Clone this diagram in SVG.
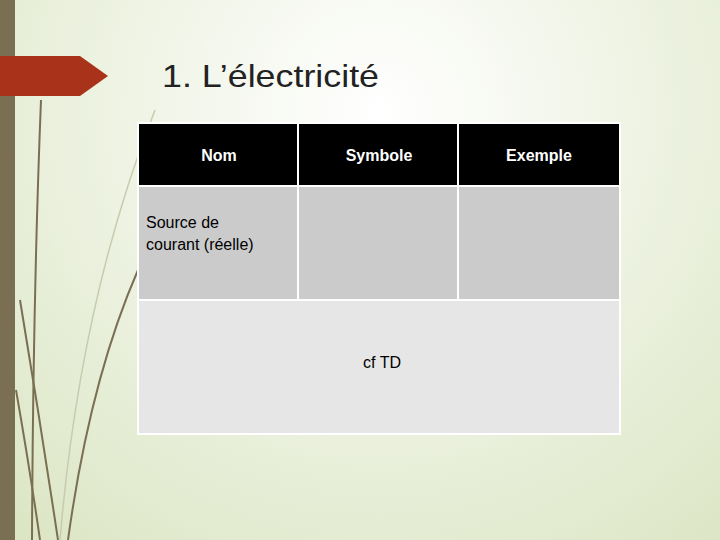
<svg xmlns="http://www.w3.org/2000/svg" width="720" height="540" viewBox="0 0 720 540">
<defs>
<radialGradient id="bg" cx="380" cy="110" r="600" gradientUnits="userSpaceOnUse">
<stop offset="0" stop-color="#ffffff"/><stop offset="1" stop-color="#d9e4c0"/>
</radialGradient>
<style>
.h{fill:#000;stroke:#fff;stroke-width:2}
.c{fill:#cbcbcb;stroke:#fff;stroke-width:2}
.t{font-family:"Liberation Sans",Arial,sans-serif;font-size:16px}
.g{fill:none;stroke:#7a6f52;stroke-width:2}
.gl{fill:none;stroke:#c8cbb0;stroke-width:1.5}
</style>
</defs>
<rect width="720" height="540" fill="url(#bg)"/>
<g id="decor">
<rect x="0" y="0" width="15" height="540" fill="#7a6f52"/>
<path class="g" d="M41 100 Q33 300 32 540"/>
<path class="g" d="M16 390 Q30 470 40 540"/>
<path class="g" d="M20 300 Q40 420 58 540"/>
<path class="g" d="M138 270 Q90 380 68 540"/>
<path class="gl" d="M155 110 Q80 300 60 540"/>
<path d="M0 56 H80 L108 76 L80 96 H0 Z" fill="#a8321a"/>
</g>
<text x="162" y="87" font-family="Liberation Sans,Arial,sans-serif" font-size="32" fill="#222" textLength="217" lengthAdjust="spacingAndGlyphs">1. L’électricité</text>
<g id="table">
<rect class="h" x="138" y="123" width="160" height="63"/>
<rect class="h" x="298" y="123" width="160" height="63"/>
<rect class="h" x="458" y="123" width="162" height="63"/>
<rect class="c" x="138" y="186" width="160" height="114"/>
<rect class="c" x="298" y="186" width="160" height="114"/>
<rect class="c" x="458" y="186" width="162" height="114"/>
<rect x="138" y="300" width="482" height="134" fill="#e6e6e6" stroke="#fff" stroke-width="2"/>
<text class="t" x="219" y="161" fill="#fff" font-weight="bold" text-anchor="middle">Nom</text>
<text class="t" x="379" y="161" fill="#fff" font-weight="bold" text-anchor="middle">Symbole</text>
<text class="t" x="539" y="161" fill="#fff" font-weight="bold" text-anchor="middle">Exemple</text>
<text class="t" x="146" y="228" fill="#000">Source de</text>
<text class="t" x="146" y="250" fill="#000">courant (réelle)</text>
<text class="t" x="382" y="368" fill="#000" text-anchor="middle">cf TD</text>
</g>
</svg>
